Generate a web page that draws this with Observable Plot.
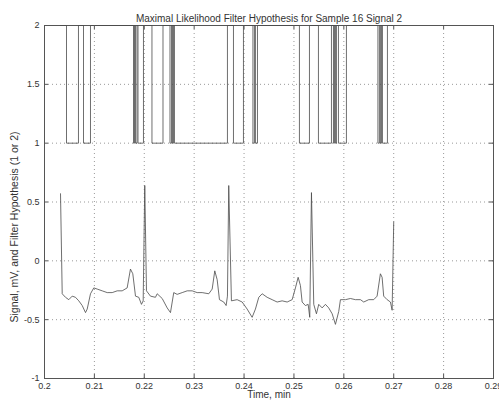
<!DOCTYPE html>
<html>
<head>
<meta charset="utf-8">
<script src="https://cdn.jsdelivr.net/npm/d3@7"></script>
<script src="https://cdn.jsdelivr.net/npm/@observablehq/plot@0.6"></script>
<style>
  html, body { margin: 0; padding: 0; background: #fff; }
</style>
</head>
<body>
<div id="chart"></div>
<script>
const titleText = "Maximal Likelihood Filter Hypothesis for Sample 16 Signal 2";
const xLabel = "Time, min";
const yLabel = "Signal, mV, and Filter Hypothesis (1 or 2)";
const xTicks = [0.2, 0.21, 0.22, 0.23, 0.24, 0.25, 0.26, 0.27, 0.28, 0.29];
const yTicks = [-1, -0.5, 0, 0.5, 1, 1.5, 2];

const ecgTime = [0.20321,0.20355,0.20421,0.20487,0.20555,0.20621,0.20687,0.20756,0.20822,0.20856,0.20922,0.20988,0.21056,0.21156,0.21257,0.21357,0.21457,0.21557,0.21657,0.21723,0.21770,0.21824,0.21890,0.21944,0.21978,0.22010,0.22044,0.22124,0.22224,0.22259,0.22359,0.22459,0.22525,0.22591,0.22659,0.22760,0.22860,0.22960,0.23060,0.23160,0.23293,0.23361,0.23413,0.23461,0.23507,0.23593,0.23641,0.23667,0.23693,0.23747,0.23861,0.23962,0.24062,0.24162,0.24228,0.24295,0.24363,0.24463,0.24563,0.24663,0.24763,0.24864,0.24964,0.25030,0.25084,0.25130,0.25164,0.25230,0.25285,0.25317,0.25351,0.25397,0.25451,0.25497,0.25565,0.25631,0.25697,0.25766,0.25832,0.25898,0.25932,0.26032,0.26132,0.26232,0.26333,0.26399,0.26499,0.26599,0.26667,0.26733,0.26767,0.26799,0.26868,0.26934,0.26968,0.27000];
const ecgSignal = [0.57,-0.28,-0.31,-0.33,-0.30,-0.31,-0.34,-0.38,-0.44,-0.41,-0.28,-0.23,-0.24,-0.255,-0.27,-0.27,-0.255,-0.255,-0.23,-0.07,-0.11,-0.30,-0.31,-0.37,-0.34,0.64,-0.255,-0.30,-0.31,-0.28,-0.32,-0.40,-0.44,-0.27,-0.285,-0.27,-0.255,-0.255,-0.27,-0.27,-0.28,-0.24,-0.085,-0.16,-0.33,-0.35,-0.38,-0.30,0.64,-0.34,-0.33,-0.35,-0.41,-0.48,-0.41,-0.31,-0.28,-0.31,-0.33,-0.35,-0.34,-0.35,-0.33,-0.23,-0.14,-0.21,-0.35,-0.38,-0.37,-0.48,0.58,-0.37,-0.45,-0.37,-0.40,-0.37,-0.40,-0.45,-0.54,-0.43,-0.33,-0.33,-0.32,-0.33,-0.33,-0.35,-0.33,-0.33,-0.30,-0.11,-0.14,-0.30,-0.33,-0.35,-0.42,0.33];

const hypTime = [0.20321,0.20441,0.20681,0.20782,0.20922,0.21784,0.21804,0.21824,0.21854,0.21874,0.21984,0.22154,0.22375,0.22515,0.22545,0.22565,0.22585,0.22605,0.23667,0.23788,0.23988,0.24178,0.24208,0.24228,0.24269,0.25110,0.25311,0.25491,0.25752,0.25792,0.25812,0.25832,0.25852,0.25892,0.26052,0.26683,0.26713,0.26733,0.26754,0.26774,0.26874,0.27000];
const hypValue = [2,1,2,1,2,1,2,1,2,1,2,1,2,1,2,1,2,1,2,1,2,1,2,1,2,1,2,1,2,1,2,1,2,1,2,1,2,1,2,1,2,2];

const ecg = ecgTime.map((t, i) => ({t, v: ecgSignal[i]}));
const hyp = hypTime.map((t, i) => ({t, v: hypValue[i]}));

const W = 499, H = 407, ML = 44, MR = 6, MT = 25, MB = 29;
const fw = W - ML - MR, fh = H - MT - MB, tk = 4;
const lineColor = "#4a4a4a";
const chart = Plot.plot({
  width: W,
  height: H,
  marginLeft: ML,
  marginRight: MR,
  marginTop: MT,
  marginBottom: MB,
  x: {domain: [0.2, 0.29]},
  y: {domain: [-1, 2]},
  style: {fontFamily: "'Liberation Sans', Arial, sans-serif", fontSize: "9px", color: "#333", background: "#fff"},
  marks: [
    Plot.gridX(xTicks, {stroke: "#999", strokeOpacity: 1, strokeDasharray: "1,3"}),
    Plot.gridY(yTicks, {stroke: "#999", strokeOpacity: 1, strokeDasharray: "1,3"}),
    Plot.frame({stroke: "#555"}),
    Plot.line(hyp, {x: "t", y: "v", curve: "step-after", stroke: lineColor, strokeWidth: 0.8}),
    Plot.line(ecg, {x: "t", y: "v", stroke: lineColor, strokeWidth: 0.8}),
    Plot.axisX(xTicks, {tickSize: 0, tickPadding: 4, tickFormat: d => String(d), label: null}),
    Plot.axisY(yTicks, {tickSize: 0, tickPadding: 5, tickFormat: d => String(d), label: null}),
    Plot.ruleX(xTicks, {insetTop: fh - tk, stroke: "#555"}),
    Plot.ruleX(xTicks, {insetBottom: fh - tk, stroke: "#555"}),
    Plot.ruleY(yTicks, {insetRight: fw - tk, stroke: "#555"}),
    Plot.ruleY(yTicks, {insetLeft: fw - tk, stroke: "#555"}),
    Plot.text([titleText], {frameAnchor: "top", dy: -11, fontSize: 10, fill: "#333"}),
    Plot.text([xLabel], {frameAnchor: "bottom", dy: 19, fontSize: 10, fill: "#333"}),
    Plot.text([yLabel], {frameAnchor: "left", textAnchor: "middle", dx: -30, dy: 25, rotate: -90, fontSize: 10.5, fill: "#333"})
  ]
});
document.getElementById("chart").append(chart);
</script>
</body>
</html>
